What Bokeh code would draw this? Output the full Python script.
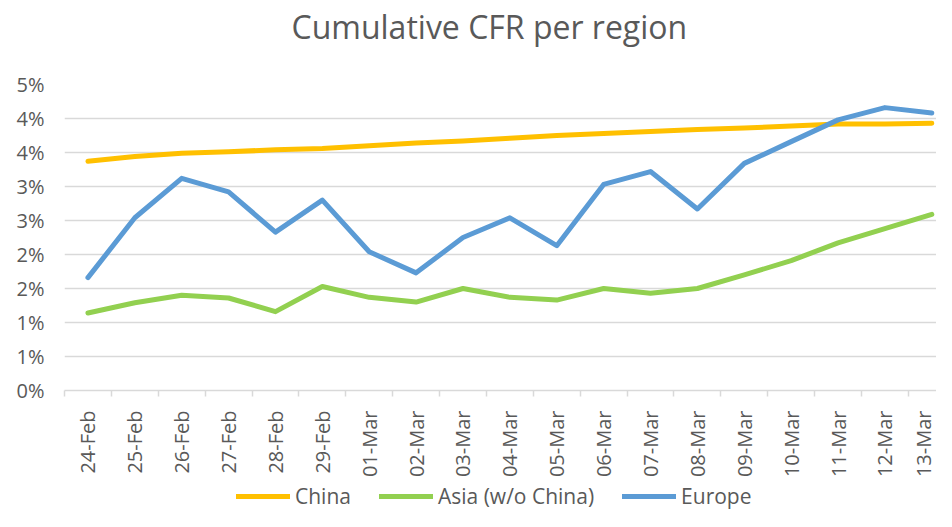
import math
from bokeh.plotting import figure
from bokeh.layouts import column
from bokeh.models import (Range1d, FixedTicker, Legend, LegendItem, Title)
from bokeh.embed import file_html
from bokeh.resources import INLINE

dates = ["24-Feb", "25-Feb", "26-Feb", "27-Feb", "28-Feb", "29-Feb",
         "01-Mar", "02-Mar", "03-Mar", "04-Mar", "05-Mar", "06-Mar", "07-Mar",
         "08-Mar", "09-Mar", "10-Mar", "11-Mar", "12-Mar", "13-Mar"]

# cumulative case fatality rate, in percent
china = [3.37, 3.44, 3.49, 3.51, 3.54, 3.56, 3.60, 3.64, 3.67, 3.71,
         3.75, 3.78, 3.81, 3.84, 3.86, 3.89, 3.92, 3.92, 3.93]
asia = [1.14, 1.29, 1.40, 1.36, 1.16, 1.53, 1.37, 1.30, 1.50, 1.37,
        1.33, 1.50, 1.43, 1.50, 1.70, 1.91, 2.17, 2.38, 2.59]
europe = [1.66, 2.54, 3.12, 2.92, 2.33, 2.80, 2.04, 1.73, 2.25, 2.54,
          2.13, 3.03, 3.22, 2.67, 3.34, 3.66, 3.98, 4.16, 4.08]

y_ticks = [0, 0.5, 1.0, 1.5, 2.0, 2.5, 3.0, 3.5, 4.0, 4.5]
y_tick_labels = ["0%", "1%", "1%", "2%", "2%", "3%", "3%", "4%", "4%", "5%"]

series_names = ["China", "Asia (w/o China)", "Europe"]
series_colors = ["#FFC000", "#92D050", "#5B9BD5"]

FONT = "Open Sans"
TXT = "#595959"
GRID = "#D9D9D9"

xs = list(range(len(dates)))
series_values = [china, asia, europe]

p = figure(width=936, height=480, output_backend="svg", toolbar_location=None,
           x_range=Range1d(-0.5, 18.1), y_range=Range1d(0, 4.5),
           min_border_left=64, min_border_right=0, min_border_top=82,
           min_border_bottom=90, outline_line_color=None,
           background_fill_color="white", border_fill_color="white")

# spacer between frame and title, then the title itself
spacer = Title(text=" ", text_font_size="1px", standoff=32, text_color="white")
p.add_layout(spacer, "above")
title = Title(text="Cumulative CFR per region", align="left", offset=227,
              text_font=FONT, text_font_size="32px", text_font_style="normal",
              text_color=TXT, standoff=4)
p.add_layout(title, "above")

# x axis
p.xaxis.ticker = FixedTicker(ticks=xs, minor_ticks=[i - 0.5 for i in range(len(dates) + 1)])
p.xaxis.major_label_overrides = {i: d for i, d in enumerate(dates)}
p.xaxis.major_label_orientation = math.pi / 2
p.xaxis.major_tick_line_color = None
p.xaxis.major_tick_out = 0
p.xaxis.major_tick_in = 0
p.xaxis.minor_tick_line_color = GRID
p.xaxis.minor_tick_line_width = 1.5
p.xaxis.minor_tick_out = 6
p.xaxis.minor_tick_in = 0
p.xaxis.axis_line_color = GRID
p.xaxis.axis_line_width = 1.5
p.xaxis.major_label_standoff = 14
p.xaxis.major_label_text_font = FONT
p.xaxis.major_label_text_font_size = "20px"
p.xaxis.major_label_text_color = TXT
p.xgrid.grid_line_color = None

# y axis
p.yaxis.ticker = FixedTicker(ticks=y_ticks)
p.yaxis.major_label_overrides = {t: l for t, l in zip(y_ticks, y_tick_labels)}
p.yaxis.axis_line_color = None
p.yaxis.major_tick_line_color = None
p.yaxis.minor_tick_line_color = None
p.yaxis.major_tick_out = 0
p.yaxis.major_label_standoff = 20
p.yaxis.major_label_text_font = FONT
p.yaxis.major_label_text_font_size = "20px"
p.yaxis.major_label_text_color = TXT
p.ygrid.grid_line_color = GRID
p.ygrid.grid_line_width = 1.5

for name, vals, col in zip(series_names, series_values, series_colors):
    p.line(xs, vals, line_color=col, line_width=5, line_join="round", line_cap="round")

# legend strip below the chart (its lines fall outside its own ranges, so only
# the legend samples are visible)
lg = figure(width=936, height=31, output_backend="svg", toolbar_location=None,
            x_range=Range1d(100, 101), y_range=Range1d(100, 101),
            x_axis_location=None, y_axis_location=None, min_border=0,
            outline_line_color=None, background_fill_color="white",
            border_fill_color="white")
lg.xgrid.grid_line_color = None
lg.ygrid.grid_line_color = None
items = []
for name, vals, col in zip(series_names, series_values, series_colors):
    r = lg.line(xs, vals, line_color=col, line_width=5, line_cap="round")
    items.append(LegendItem(label=name, renderers=[r]))
legend = Legend(items=items, orientation="horizontal", location=(172, 1),
                glyph_width=54, glyph_height=20, label_standoff=5, spacing=28,
                padding=0, margin=0, border_line_color=None, background_fill_alpha=0,
                label_text_font=FONT, label_text_font_size="21px", label_text_color=TXT,
                label_height=24)
lg.add_layout(legend, "center")

layout = column(p, lg, spacing=0)
open("out.html", "w").write(file_html(layout, INLINE))
